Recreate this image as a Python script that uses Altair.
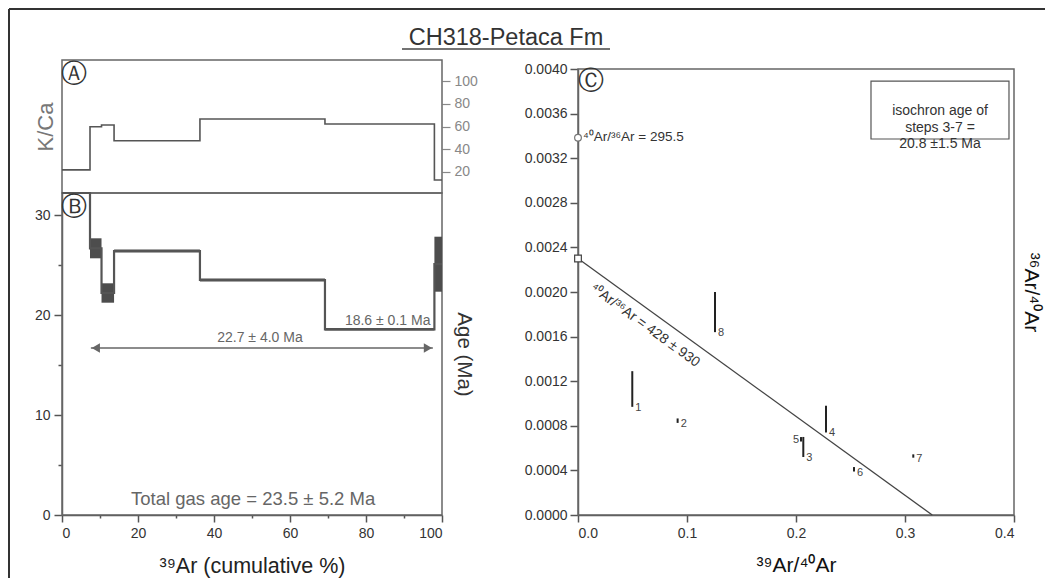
import altair as alt
import pandas as pd

# ---------------- data ----------------
# incremental heating steps, cumulative % of 39Ar released
step_start = [0.0, 7.37, 10.4, 13.7, 36.3, 69.2, 98.0]
step_end = [7.37, 10.4, 13.7, 36.3, 69.2, 98.0, 100.0]
kca_values = [21.8, 59.8, 61.3, 47.5, 66.6, 62.2, 13.0]
step_age = [40.0, 26.67, 22.2, 26.4, 23.5, 18.57, 25.08]      # step 1 is off scale (clamped)
step_age_err = [1.0, 1.0, 0.97, 0.15, 0.15, 0.12, 2.75]

plateau_range = [7.6, 97.6]
plateau_level = 16.7

# inverse isochron
iso_step = ["1", "2", "3", "4", "5", "6", "7", "8"]
ar39_ar40 = [0.0498, 0.0914, 0.2067, 0.2275, 0.2046, 0.2532, 0.3076, 0.1257]
ar36_ar40 = [0.00113, 0.000846, 0.00061, 0.00086, 0.000679, 0.00041, 0.000529, 0.00182]
ar36_ar40_err = [0.00016, 0.00002, 0.00009, 0.00012, 0.00002, 0.00002, 0.000015, 0.00018]
label_side = ["right", "right", "right", "right", "left", "right", "right", "right"]

isochron_x = [0.0, 0.325]
isochron_y = [0.0023, 0.0]
atm_ratio = 295.5

kca_ticks = [20, 40, 60, 80, 100]
age_ticks = [0, 5, 10, 15, 20, 25, 30]
cum_ticks = [0, 10, 20, 30, 40, 50, 60, 70, 80, 90, 100]
iso_x_ticks = [0.0, 0.1, 0.2, 0.3, 0.4]
iso_y_ticks = [0.0, 0.0004, 0.0008, 0.0012, 0.0016, 0.002, 0.0024, 0.0028, 0.0032, 0.0036, 0.004]

FONT = "Liberation Sans"
CFONT = "DejaVu Sans"
one = pd.DataFrame({"o": [0]})

# ---------------- layout (pixel ranges inside one layered chart) ----------------
W, H = 952, 455
A_W, A_H = 380, 133          # panel A: x 0..380, y 0..133
B_TOP = 133                  # panel B: x 0..380, y 133..455
C_LEFT, C_TOP = 516, 9       # panel C: x 516..952, y 9..455

kca_dom = [1.5, 118.5]
age_dom = [0, 32.2]
cum_dom = [0, 100]
isx_dom = [0, 0.4]
isy_dom = [0, 0.004]

xs_a = alt.Scale(domain=cum_dom, range=[0, A_W], nice=False, zero=False)
ys_a = alt.Scale(domain=kca_dom, range=[A_H, 0], nice=False, zero=False)
xs_b = alt.Scale(domain=cum_dom, range=[0, A_W], nice=False, zero=False)
ys_b = alt.Scale(domain=age_dom, range=[H, B_TOP], nice=False, zero=False, clamp=True)
xs_c = alt.Scale(domain=isx_dom, range=[C_LEFT, W], nice=False, zero=False)
ys_c = alt.Scale(domain=isy_dom, range=[H, C_TOP], nice=False, zero=False)

BORDER = "#666"
TAG_SIZE = 26

# ---------------- panel A : K/Ca ----------------
kca_df = pd.DataFrame({"cum": step_start + [100.0], "kca": kca_values + [kca_values[-1]]})

a_box = alt.Chart(one).mark_rect(fill="transparent", stroke=BORDER, strokeWidth=1.5).encode(
    x=alt.XDatum(cum_dom[0], scale=xs_a, axis=None), x2=alt.X2Datum(cum_dom[1]),
    y=alt.YDatum(kca_dom[0], scale=ys_a, axis=None), y2=alt.Y2Datum(kca_dom[1]))
a_line = alt.Chart(kca_df).mark_line(interpolate="step-after", color="#555", strokeWidth=1.6).encode(
    x=alt.X("cum:Q", scale=xs_a, axis=None),
    y=alt.Y("kca:Q", scale=ys_a, axis=alt.Axis(
        orient="right", offset=-(W - A_W), values=kca_ticks, title=None, domain=False, grid=False,
        tickSize=8, tickColor="#888", tickWidth=1.2, labelColor="#888",
        labelFontSize=14, labelPadding=4)),
)
a_ylab = alt.Chart(kca_df).mark_line(opacity=0).encode(
    x=alt.X("cum:Q", scale=xs_a, axis=None),
    y=alt.Y("kca:Q", scale=ys_a, axis=alt.Axis(
        orient="left", labels=False, ticks=False, domain=False, grid=False,
        title="K/Ca", titleColor="#777", titleFontSize=22, titleFontWeight="normal",
        titlePadding=5)),
)
a_tag = alt.Chart(one).mark_text(text="Ⓐ", font=CFONT, fontSize=TAG_SIZE, color="#333").encode(
    x=alt.XDatum(3.2, scale=xs_a, axis=None), y=alt.YDatum(106.2, scale=ys_a, axis=None))

# page decoration: title, underline, outer frame
a_title = alt.Chart(one).mark_text(
    text="CH318-Petaca Fm", fontSize=23.5, color="#333", align="center", baseline="alphabetic"
).encode(x=alt.value(444), y=alt.value(-15))
a_underline = alt.Chart(one).mark_rule(color="#444", strokeWidth=1.5).encode(
    x=alt.value(340), x2=alt.value(548), y=alt.value(-11))
frame_top = alt.Chart(one).mark_rule(color="#333", strokeWidth=2).encode(
    x=alt.value(-53), x2=alt.value(983), y=alt.value(-51))
frame_left = alt.Chart(one).mark_rule(color="#333", strokeWidth=2).encode(
    x=alt.value(-53), y=alt.value(-51), y2=alt.value(518))

# ---------------- panel B : age spectrum ----------------
rect_df = pd.DataFrame({
    "x0": step_start, "x1": step_end,
    "lo": [a - e for a, e in zip(step_age, step_age_err)],
    "hi": [a + e for a, e in zip(step_age, step_age_err)],
})
age_df = pd.DataFrame({"cum": step_start + [100.0], "age": step_age + [step_age[-1]]})

x_axis_b = alt.Axis(
    orient="bottom", values=cum_ticks, labelExpr="datum.value % 20 === 0 ? datum.label : ''",
    tickSize={"condition": {"test": "datum.value % 20 === 0", "value": 7}, "value": 3},
    title="³⁹Ar (cumulative %)", titleFontSize=21.5, titleFontWeight="normal", titleColor="#222",
    titlePadding=15, labelFontSize=14, labelPadding=4, grid=False,
    domainColor="#555", domainWidth=1.5, tickColor="#555", tickWidth=1.5)
y_axis_b = alt.Axis(
    orient="left", values=age_ticks, labelExpr="datum.value % 10 === 0 ? datum.label : ''",
    tickSize={"condition": {"test": "datum.value % 10 === 0", "value": 8}, "value": 4},
    title=None, labelFontSize=14, labelPadding=4, grid=False,
    domainColor=BORDER, domainWidth=1.5, tickColor="#555", tickWidth=1.5)

b_box = alt.Chart(one).mark_rect(fill="transparent", stroke=BORDER, strokeWidth=1.5).encode(
    x=alt.XDatum(cum_dom[0], scale=xs_b, axis=None), x2=alt.X2Datum(cum_dom[1]),
    y=alt.YDatum(age_dom[0], scale=ys_b, axis=None), y2=alt.Y2Datum(age_dom[1]))
b_rect = alt.Chart(rect_df).mark_rect(color="#4d4d4d").encode(
    x=alt.X("x0:Q", scale=xs_b, axis=x_axis_b), x2="x1:Q",
    y=alt.Y("lo:Q", scale=ys_b, axis=y_axis_b), y2="hi:Q")
b_line = alt.Chart(age_df).mark_line(interpolate="step-after", color="#555", strokeWidth=2.2).encode(
    x=alt.X("cum:Q", scale=xs_b, axis=None), y=alt.Y("age:Q", scale=ys_b, axis=None))

plat_df = pd.DataFrame({"x0": [plateau_range[0]], "x1": [plateau_range[1]], "y": [plateau_level]})
b_arrow = alt.Chart(plat_df).mark_rule(color="#666", strokeWidth=1.5).encode(
    x=alt.X("x0:Q", scale=xs_b, axis=None), x2="x1:Q", y=alt.Y("y:Q", scale=ys_b, axis=None))
head_off = 1.3
heads_df = pd.DataFrame({
    "x": [plateau_range[0] + head_off, plateau_range[1] - head_off],
    "y": [plateau_level, plateau_level],
    "shape": ["triangle-left", "triangle-right"],
})
b_heads = alt.Chart(heads_df).mark_point(filled=True, color="#666", size=90, opacity=1).encode(
    x=alt.X("x:Q", scale=xs_b, axis=None), y=alt.Y("y:Q", scale=ys_b, axis=None),
    shape=alt.Shape("shape:N", scale=None))

b_plateau_txt = alt.Chart(one).mark_text(text="22.7 ± 4.0 Ma", fontSize=14, color="#666").encode(
    x=alt.XDatum(52.1, scale=xs_b, axis=None), y=alt.YDatum(17.7, scale=ys_b, axis=None))
b_step_txt = alt.Chart(one).mark_text(text="18.6 ± 0.1 Ma", fontSize=14, color="#666").encode(
    x=alt.XDatum(85.7, scale=xs_b, axis=None), y=alt.YDatum(19.4, scale=ys_b, axis=None))
b_total_txt = alt.Chart(one).mark_text(text="Total gas age = 23.5 ± 5.2 Ma", fontSize=18.5, color="#666").encode(
    x=alt.XDatum(50.3, scale=xs_b, axis=None), y=alt.YDatum(1.6, scale=ys_b, axis=None))
b_tag = alt.Chart(one).mark_text(text="Ⓑ", font=CFONT, fontSize=TAG_SIZE, color="#333").encode(
    x=alt.XDatum(3.2, scale=xs_b, axis=None), y=alt.YDatum(30.8, scale=ys_b, axis=None))
b_ylab = alt.Chart(age_df).mark_line(opacity=0).encode(
    x=alt.X("cum:Q", scale=xs_b, axis=None),
    y=alt.Y("age:Q", scale=ys_b, axis=alt.Axis(
        orient="right", offset=-(W - A_W), labels=False, ticks=False, domain=False, grid=False,
        title="Age (Ma)", titleFontSize=20.5, titleFontWeight="normal", titleColor="#333",
        titlePadding=11)))

# ---------------- panel C : isochron ----------------
iso_df = pd.DataFrame({"x": isochron_x, "y": isochron_y})
pts_df = pd.DataFrame({
    "step": iso_step, "x": ar39_ar40, "y": ar36_ar40,
    "lo": [v - e for v, e in zip(ar36_ar40, ar36_ar40_err)],
    "hi": [v + e for v, e in zip(ar36_ar40, ar36_ar40_err)],
    "side": label_side,
})

c_box = alt.Chart(one).mark_rect(fill="transparent", stroke=BORDER, strokeWidth=1.5).encode(
    x=alt.XDatum(isx_dom[0], scale=xs_c, axis=None), x2=alt.X2Datum(isx_dom[1]),
    y=alt.YDatum(isy_dom[0], scale=ys_c, axis=None), y2=alt.Y2Datum(isy_dom[1]))
c_line = alt.Chart(iso_df).mark_line(color="#444", strokeWidth=1.3).encode(
    x=alt.X("x:Q", scale=xs_c, axis=alt.Axis(
        orient="bottom", values=iso_x_ticks, format=".1f", title="³⁹Ar/⁴⁰Ar", titleFontSize=21,
        titleFontWeight="normal", titleColor="#111", titlePadding=14, labelFontSize=14,
        labelPadding=4, tickSize=7, grid=False, domainColor="#555", domainWidth=1.5,
        tickColor="#555", tickWidth=1.5)),
    y=alt.Y("y:Q", scale=ys_c, axis=alt.Axis(
        orient="left", offset=-C_LEFT, values=iso_y_ticks, format=".4f", title=None, tickSize=8,
        labelFontSize=14, labelPadding=3, grid=False, domainColor=BORDER, domainWidth=1.5,
        tickColor="#555", tickWidth=1.5)),
)
c_err = alt.Chart(pts_df).mark_rule(color="#222", strokeWidth=2).encode(
    x=alt.X("x:Q", scale=xs_c, axis=None), y=alt.Y("lo:Q", scale=ys_c, axis=None), y2="hi:Q")
c_lab_r = alt.Chart(pts_df).transform_filter(alt.datum.side == "right").mark_text(
    align="left", baseline="middle", dx=3, dy=1, fontSize=11, color="#444").encode(
    x=alt.X("x:Q", scale=xs_c, axis=None), y=alt.Y("lo:Q", scale=ys_c, axis=None), text="step:N")
c_lab_l = alt.Chart(pts_df).transform_filter(alt.datum.side == "left").mark_text(
    align="right", baseline="middle", dx=-2, dy=1, fontSize=11, color="#444").encode(
    x=alt.X("x:Q", scale=xs_c, axis=None), y=alt.Y("y:Q", scale=ys_c, axis=None), text="step:N")

c_intercept = alt.Chart(one).mark_point(shape="square", filled=True, fill="white", stroke="#444",
                                        strokeWidth=1.2, size=45, opacity=1).encode(
    x=alt.XDatum(isochron_x[0], scale=xs_c, axis=None), y=alt.YDatum(isochron_y[0], scale=ys_c, axis=None))
c_atm = alt.Chart(one).mark_point(shape="circle", filled=True, fill="white", stroke="#777",
                                  strokeWidth=1.2, size=45, opacity=1).encode(
    x=alt.XDatum(0.0, scale=xs_c, axis=None), y=alt.YDatum(1.0 / atm_ratio, scale=ys_c, axis=None))
c_atm_txt = alt.Chart(one).mark_text(text="⁴⁰Ar/³⁶Ar = 295.5", align="left", baseline="middle",
                                     dx=5, dy=-1, fontSize=13.5, color="#333").encode(
    x=alt.XDatum(0.0, scale=xs_c, axis=None), y=alt.YDatum(1.0 / atm_ratio, scale=ys_c, axis=None))
c_line_txt = alt.Chart(one).mark_text(text="⁴⁰Ar/³⁶Ar = 428 ± 930", angle=36, fontSize=14,
                                      color="#333", baseline="middle").encode(
    x=alt.XDatum(0.0615, scale=xs_c, axis=None), y=alt.YDatum(0.0017, scale=ys_c, axis=None))
c_inbox = alt.Chart(one).mark_rect(fill="white", stroke="#555", strokeWidth=1.2).encode(
    x=alt.XDatum(0.2688, scale=xs_c, axis=None), x2=alt.X2Datum(0.3954),
    y=alt.YDatum(0.003372, scale=ys_c, axis=None), y2=alt.Y2Datum(0.003892))
c_inbox_txt = alt.Chart(one).mark_text(
    text=["isochron age of", "steps 3-7 =", "20.8 ±1.5 Ma"], lineHeight=16.5, fontSize=14,
    color="#333", baseline="middle", align="center").encode(
    x=alt.XDatum(0.3321, scale=xs_c, axis=None), y=alt.YDatum(0.003619, scale=ys_c, axis=None))
c_tag = alt.Chart(one).mark_text(text="Ⓒ", font=CFONT, fontSize=TAG_SIZE, color="#333").encode(
    x=alt.XDatum(0.0119, scale=xs_c, axis=None), y=alt.YDatum(0.003892, scale=ys_c, axis=None))
c_ylab = alt.Chart(iso_df).mark_line(opacity=0).encode(
    x=alt.X("x:Q", scale=xs_c, axis=None),
    y=alt.Y("y:Q", scale=ys_c, axis=alt.Axis(
        orient="right", labels=False, ticks=False, domain=False, grid=False,
        title="³⁶Ar/⁴⁰Ar", titleFontSize=21, titleFontWeight="normal", titleColor="#111",
        titlePadding=6)))

chart = alt.layer(
    a_box, a_line, a_ylab, a_tag, a_title, a_underline, frame_top, frame_left,
    b_box, b_rect, b_line, b_arrow, b_heads, b_plateau_txt, b_step_txt, b_total_txt, b_tag, b_ylab,
    c_box, c_line, c_err, c_lab_r, c_lab_l, c_intercept, c_atm, c_atm_txt, c_line_txt,
    c_inbox, c_inbox_txt, c_tag, c_ylab,
).resolve_scale(
    x="independent", y="independent"
).resolve_axis(
    x="independent", y="independent"
).properties(
    width=W, height=H, padding=0
).configure(
    font=FONT
).configure_view(
    stroke="transparent", strokeWidth=0
).configure_axis(
    labelFont=FONT, titleFont=FONT, labelColor="#333"
)

chart.save("out.html", embed_options={"renderer": "svg", "actions": False})
